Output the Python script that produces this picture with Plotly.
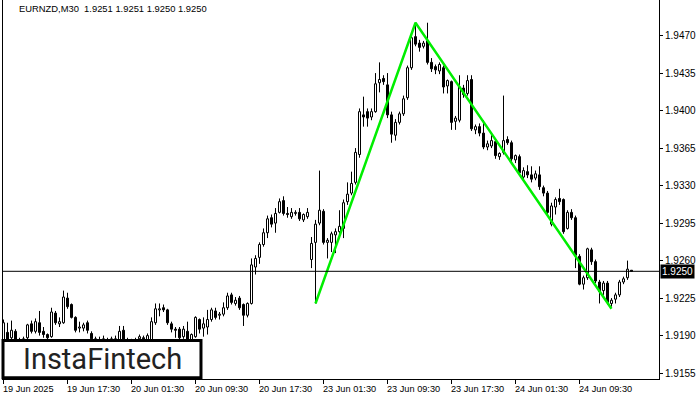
import plotly.graph_objects as go

# ---------------- data (EURNZD, M30) ----------------
opens = [
    1.9186, 1.9193, 1.9188, 1.9194, 1.9186, 1.9182, 1.9188, 1.9201, 1.9194, 1.9202,
    1.9194, 1.9191, 1.9189, 1.9211, 1.9201, 1.9202, 1.9225, 1.9219, 1.9207, 1.9197,
    1.9197, 1.9202, 1.9192, 1.9187, 1.9185, 1.9186, 1.9186, 1.9185, 1.9187, 1.9186,
    1.9195, 1.9186, 1.9182, 1.9185, 1.9187, 1.9188, 1.9186, 1.9186, 1.9202, 1.9214,
    1.9216, 1.9214, 1.9201, 1.9196, 1.9196, 1.9189, 1.9194, 1.9186, 1.9189, 1.9205,
    1.9197, 1.9198, 1.9205, 1.9213, 1.9209, 1.9210, 1.9216, 1.9228, 1.9220, 1.9225,
    1.9219, 1.9209, 1.9220, 1.9254, 1.9263, 1.9275, 1.9286, 1.9300, 1.9295, 1.9305,
    1.9316, 1.9304, 1.9301, 1.9304, 1.9305, 1.9298, 1.9301, 1.9261, 1.9277, 1.9295,
    1.9306, 1.9277, 1.9277, 1.9284, 1.9287, 1.9290, 1.9315, 1.9323, 1.9333, 1.9359,
    1.9396, 1.9399, 1.9394, 1.9399, 1.9426, 1.9430, 1.9424, 1.9396, 1.9377, 1.9389,
    1.9397, 1.9412, 1.9440, 1.9469, 1.9463, 1.9460, 1.9465, 1.9445, 1.9441, 1.9437,
    1.9440, 1.9423, 1.9427, 1.9390, 1.9391, 1.9421, 1.9416, 1.9429, 1.9382, 1.9385,
    1.9379, 1.9366, 1.9367, 1.9371, 1.9357, 1.9361, 1.9373, 1.9370, 1.9354, 1.9357,
    1.9338, 1.9343, 1.9340, 1.9337, 1.9340, 1.9328, 1.9323, 1.9294, 1.9310, 1.9318,
    1.9317, 1.9290, 1.9305, 1.9300, 1.9264, 1.9238, 1.9244, 1.9270, 1.9259, 1.9240,
    1.9232, 1.9239, 1.9220, 1.9224, 1.9228, 1.9240, 1.9244, 1.9251,
]
highs = [
    1.9205, 1.9202, 1.9204, 1.9196, 1.9188, 1.9189, 1.9201, 1.9204, 1.9206, 1.9213,
    1.9198, 1.9192, 1.9216, 1.9213, 1.9207, 1.9232, 1.9230, 1.9220, 1.9208, 1.9203,
    1.9202, 1.9204, 1.9194, 1.9189, 1.9189, 1.9190, 1.9188, 1.9189, 1.9190, 1.9199,
    1.9199, 1.9188, 1.9187, 1.9188, 1.9191, 1.9190, 1.9192, 1.9207, 1.9220, 1.9220,
    1.9219, 1.9215, 1.9203, 1.9198, 1.9198, 1.9199, 1.9203, 1.9192, 1.9208, 1.9206,
    1.9207, 1.9214, 1.9216, 1.9216, 1.9212, 1.9221, 1.9230, 1.9230, 1.9226, 1.9227,
    1.9220, 1.9221, 1.9262, 1.9265, 1.9277, 1.9290, 1.9302, 1.9303, 1.9309, 1.9318,
    1.9320, 1.9310, 1.9309, 1.9307, 1.9309, 1.9304, 1.9309, 1.9282, 1.9298, 1.9344,
    1.9308, 1.9281, 1.9287, 1.9290, 1.9307, 1.9317, 1.9333, 1.9343, 1.9365, 1.9402,
    1.9413, 1.9402, 1.9402, 1.9435, 1.9445, 1.9433, 1.9435, 1.9399, 1.9392, 1.9399,
    1.9414, 1.9442, 1.9470, 1.9482, 1.9466, 1.9465, 1.9482, 1.9449, 1.9443, 1.9445,
    1.9442, 1.9429, 1.9428, 1.9395, 1.9433, 1.9424, 1.9433, 1.9433, 1.9387, 1.9388,
    1.9391, 1.9372, 1.9377, 1.9373, 1.9361, 1.9414, 1.9376, 1.9372, 1.9359, 1.9359,
    1.9347, 1.9349, 1.9348, 1.9344, 1.9348, 1.9330, 1.9325, 1.9314, 1.9319, 1.9327,
    1.9318, 1.9307, 1.9308, 1.9302, 1.9266, 1.9246, 1.9272, 1.9272, 1.9261, 1.9242,
    1.9241, 1.9241, 1.9225, 1.9230, 1.9242, 1.9245, 1.9260, 1.9251,
]
lows = [
    1.9184, 1.9183, 1.9185, 1.9182, 1.9180, 1.9180, 1.9186, 1.9192, 1.9192, 1.9190,
    1.9188, 1.9186, 1.9188, 1.9200, 1.9198, 1.9201, 1.9215, 1.9206, 1.9193, 1.9193,
    1.9194, 1.9192, 1.9185, 1.9181, 1.9182, 1.9183, 1.9182, 1.9183, 1.9183, 1.9184,
    1.9183, 1.9180, 1.9180, 1.9182, 1.9185, 1.9184, 1.9184, 1.9185, 1.9200, 1.9208,
    1.9212, 1.9200, 1.9193, 1.9188, 1.9186, 1.9187, 1.9184, 1.9184, 1.9188, 1.9192,
    1.9189, 1.9191, 1.9203, 1.9205, 1.9205, 1.9208, 1.9214, 1.9219, 1.9218, 1.9214,
    1.9199, 1.9207, 1.9219, 1.9247, 1.9257, 1.9273, 1.9281, 1.9291, 1.9286, 1.9304,
    1.9302, 1.9300, 1.9299, 1.9302, 1.9297, 1.9296, 1.9299, 1.9253, 1.9220, 1.9293,
    1.9275, 1.9262, 1.9268, 1.9267, 1.9281, 1.9281, 1.9312, 1.9321, 1.9331, 1.9356,
    1.9385, 1.9385, 1.9391, 1.9398, 1.9417, 1.9424, 1.9393, 1.9370, 1.9372, 1.9387,
    1.9395, 1.9410, 1.9438, 1.9460, 1.9455, 1.9458, 1.9443, 1.9436, 1.9434, 1.9434,
    1.9416, 1.9416, 1.9382, 1.9382, 1.9389, 1.9412, 1.9414, 1.9381, 1.9378, 1.9376,
    1.9364, 1.9363, 1.9365, 1.9355, 1.9354, 1.9359, 1.9368, 1.9352, 1.9351, 1.9340,
    1.9335, 1.9337, 1.9333, 1.9335, 1.9326, 1.9320, 1.9302, 1.9292, 1.9303, 1.9312,
    1.9285, 1.9289, 1.9298, 1.9253, 1.9237, 1.9233, 1.9242, 1.9256, 1.9239, 1.9220,
    1.9228, 1.9219, 1.9217, 1.9220, 1.9226, 1.9238, 1.9242, 1.9250,
]
closes = [
    1.9202, 1.9186, 1.9195, 1.9186, 1.9183, 1.9187, 1.9200, 1.9194, 1.9203, 1.9193,
    1.9191, 1.9188, 1.9212, 1.9202, 1.9203, 1.9226, 1.9217, 1.9207, 1.9195, 1.9198,
    1.9200, 1.9195, 1.9187, 1.9184, 1.9186, 1.9187, 1.9185, 1.9187, 1.9186, 1.9194,
    1.9186, 1.9183, 1.9185, 1.9186, 1.9189, 1.9187, 1.9190, 1.9203, 1.9215, 1.9215,
    1.9214, 1.9202, 1.9196, 1.9195, 1.9188, 1.9196, 1.9186, 1.9191, 1.9207, 1.9196,
    1.9201, 1.9205, 1.9214, 1.9207, 1.9210, 1.9216, 1.9227, 1.9221, 1.9223, 1.9216,
    1.9209, 1.9220, 1.9256, 1.9262, 1.9275, 1.9286, 1.9299, 1.9294, 1.9304, 1.9315,
    1.9304, 1.9303, 1.9305, 1.9305, 1.9299, 1.9303, 1.9305, 1.9276, 1.9294, 1.9307,
    1.9277, 1.9279, 1.9285, 1.9287, 1.9292, 1.9314, 1.9322, 1.9332, 1.9361, 1.9399,
    1.9394, 1.9393, 1.9399, 1.9425, 1.9429, 1.9427, 1.9396, 1.9378, 1.9389, 1.9397,
    1.9411, 1.9440, 1.9468, 1.9462, 1.9459, 1.9463, 1.9445, 1.9439, 1.9438, 1.9443,
    1.9422, 1.9428, 1.9389, 1.9393, 1.9422, 1.9415, 1.9428, 1.9383, 1.9385, 1.9379,
    1.9366, 1.9369, 1.9372, 1.9358, 1.9360, 1.9372, 1.9370, 1.9355, 1.9358, 1.9342,
    1.9344, 1.9340, 1.9336, 1.9341, 1.9329, 1.9323, 1.9305, 1.9311, 1.9317, 1.9315,
    1.9287, 1.9305, 1.9300, 1.9265, 1.9238, 1.9244, 1.9271, 1.9259, 1.9241, 1.9231,
    1.9239, 1.9221, 1.9223, 1.9228, 1.9240, 1.9243, 1.9252, 1.9250,
]

# time-axis labels every 16 bars (8 hours of M30 bars)
tick_bars = [0, 16, 32, 48, 64, 80, 96, 112, 128, 144]
tick_labels = ["19 Jun 2025", "19 Jun 17:30", "20 Jun 01:30", "20 Jun 09:30",
               "20 Jun 17:30", "23 Jun 01:30", "23 Jun 09:30", "23 Jun 17:30",
               "24 Jun 01:30", "24 Jun 09:30"]

price_ticks = [1.9155, 1.9190, 1.9225, 1.9260, 1.9295, 1.9330,
               1.9365, 1.9400, 1.9435, 1.9470]

# pattern drawn in green: bar index / price
pattern_bars = [78, 103, 152]
pattern_prices = [1.9220, 1.9482, 1.9215]

bid_price = 1.9250
header = "EURNZD,M30&nbsp;&nbsp;1.9251 1.9251 1.9250 1.9250"
logo_text = "InstaFintech"

# ---------------- figure ----------------
bars = list(range(len(opens)))
FONT = "Liberation Sans, Arial, sans-serif"

body_base = [min(o, c) for o, c in zip(opens, closes)]
body_len = [abs(c - o) for o, c in zip(opens, closes)]
body_col = ["white" if c >= o else "black" for o, c in zip(opens, closes)]

# wicks: from high down to body top, and from body bottom down to low
wx, wy = [], []
for i, o, h, l, c in zip(bars, opens, highs, lows, closes):
    top, bot = max(o, c), min(o, c)
    wx += [i, i, None, i, i, None]
    wy += [h, top, None, bot, l, None]

fig = go.Figure()
fig.add_trace(go.Scatter(
    x=wx, y=wy, mode="lines", line=dict(color="black", width=1),
    showlegend=False, hoverinfo="skip", connectgaps=False,
))
fig.add_trace(go.Bar(
    x=bars, y=body_len, base=body_base, width=0.5,
    marker=dict(color=body_col, line=dict(color="black", width=1)),
    showlegend=False, hoverinfo="skip",
))
fig.add_trace(go.Scatter(
    x=pattern_bars, y=pattern_prices, mode="lines",
    line=dict(color="#00ee00", width=2.5), showlegend=False, hoverinfo="skip",
))

annotations = []
for b, lab in zip(tick_bars, tick_labels):
    annotations.append(dict(
        x=b, y=0, xref="x", yref="paper", text=lab, showarrow=False,
        xanchor="left", yanchor="top", xshift=-3, yshift=-3,
        font=dict(family=FONT, size=9.2, color="black"),
    ))
annotations.append(dict(
    x=0.021, y=0.997, xref="paper", yref="paper", text=header, showarrow=False,
    xanchor="left", yanchor="top", font=dict(family=FONT, size=9.4, color="black"),
))
annotations.append(dict(
    x=1.0, y=bid_price, xref="paper", yref="y", text=f"{bid_price:.4f}",
    showarrow=False, xanchor="left", yanchor="middle", xshift=1,
    bgcolor="black", borderpad=1, font=dict(family=FONT, size=10, color="white"),
))
annotations.append(dict(
    x=0.1517, y=0.054, xref="paper", yref="paper", text=logo_text, showarrow=False,
    xanchor="center", yanchor="middle",
    font=dict(family="Roboto, sans-serif", size=29, color="#222222"),
))

shapes = [
    dict(type="line", xref="paper", yref="y", x0=0, x1=1, y0=bid_price, y1=bid_price,
         line=dict(color="black", width=1), layer="above"),
    dict(type="rect", xref="paper", yref="paper", x0=0.0, x1=0.3018, y0=0.003, y1=0.1015,
         line=dict(color="black", width=3), fillcolor="white", layer="above"),
]

fig.update_layout(
    width=700, height=400,
    margin=dict(l=3, r=41, t=0, b=21),
    paper_bgcolor="white", plot_bgcolor="white",
    showlegend=False, barmode="overlay",
    annotations=annotations, shapes=shapes,
    xaxis=dict(
        range=[-0.125, 163.875], showgrid=False, zeroline=False,
        showline=True, linecolor="black", linewidth=1,
        ticks="outside", ticklen=4, tickcolor="black",
        tickvals=tick_bars, showticklabels=False, fixedrange=True,
    ),
    yaxis=dict(
        side="right", range=[1.91495, 1.95032], showgrid=False, zeroline=False,
        showline=True, mirror=True, linecolor="black", linewidth=1,
        ticks="outside", ticklen=3, tickcolor="black",
        tickvals=price_ticks, ticktext=[f"{v:.4f}" for v in price_ticks],
        tickfont=dict(family=FONT, size=10, color="black"), fixedrange=True,
    ),
)

fig.write_html("out.html", config={"displayModeBar": False, "staticPlot": True},
               post_script="document.body.style.margin='0';")
